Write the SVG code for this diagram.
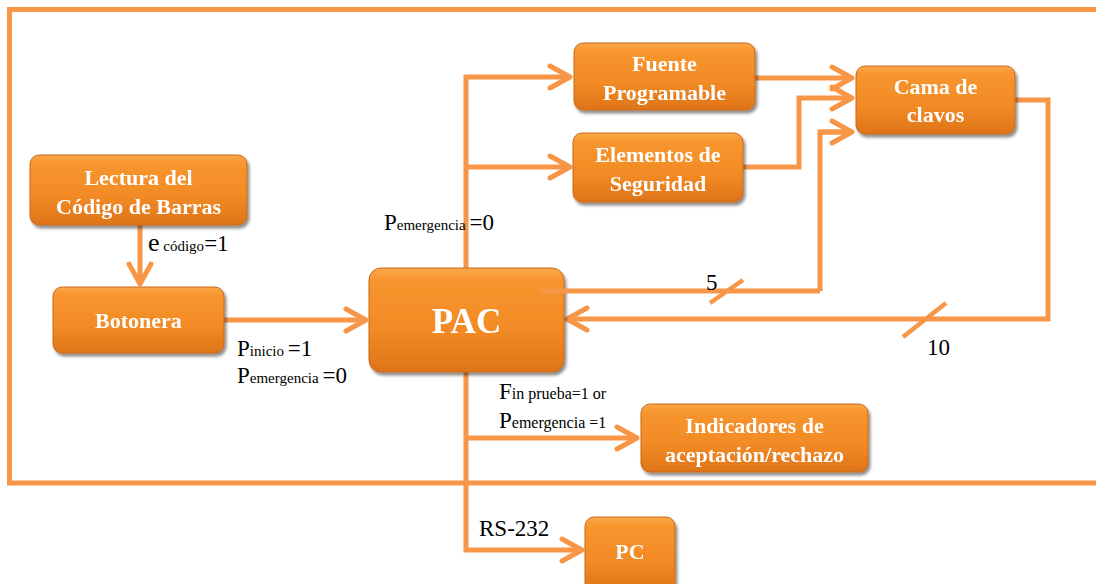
<svg xmlns="http://www.w3.org/2000/svg" width="1096" height="584" viewBox="0 0 1096 584">
<style>
.ln{fill:none;stroke:#F79646;stroke-width:5;stroke-linejoin:miter}
.box{fill:url(#g);stroke:#C8681C;stroke-width:1}
.bt{font-family:"Liberation Serif","Times New Roman",serif;font-weight:bold;fill:#fff;font-size:22px;text-anchor:middle}
.lb{font-family:"Liberation Serif","Times New Roman",serif;fill:#000;font-size:23px}
.sm{font-size:15px}
</style>
<defs>
<linearGradient id="g" x1="0" y1="0" x2="0" y2="1">
<stop offset="0" stop-color="#FBA84A"/>
<stop offset="0.12" stop-color="#F7952E"/>
<stop offset="0.6" stop-color="#F28A25"/>
<stop offset="1" stop-color="#DE7418"/>
</linearGradient>
<filter id="sh" x="-10%" y="-10%" width="125%" height="130%">
<feGaussianBlur in="SourceAlpha" stdDeviation="1.5"/>
<feOffset dx="2" dy="3"/>
<feComponentTransfer><feFuncA type="linear" slope="0.45"/></feComponentTransfer>
<feMerge><feMergeNode/><feMergeNode in="SourceGraphic"/></feMerge>
</filter>
<marker id="ar" viewBox="-24 -14 27 28" markerWidth="27" markerHeight="28" refX="0" refY="0" orient="auto" markerUnits="userSpaceOnUse">
<path d="M-20,-11 L0,0 L-20,11" fill="none" stroke="#F79646" stroke-width="5" stroke-linecap="round" stroke-linejoin="round"/>
</marker>
</defs>
<rect width="1096" height="584" fill="#fff"/>
<path class="ln" d="M1100,9.5 H9.5 V483 H1100" stroke-width="4.5"/>
<g id="connectors">
<path class="ln" d="M466,268 V77 H570" marker-end="url(#ar)"/>
<path class="ln" d="M466,167 H570" marker-end="url(#ar)"/>
<path class="ln" d="M466,372 V550 H582" marker-end="url(#ar)"/>
<path class="ln" d="M466,438 H637" marker-end="url(#ar)"/>
<path class="ln" d="M755,78 H852" marker-end="url(#ar)"/>
<path class="ln" d="M743,167 H799 V98 H852" marker-end="url(#ar)"/>
<path class="ln" d="M820,291 V132 H852"/>
<path class="ln" d="M820,132 H852" marker-end="url(#ar)"/>
<path class="ln" d="M1015,100 H1048 V319 H567" marker-end="url(#ar)"/>
<path class="ln" d="M140,225 V284" marker-end="url(#ar)"/>
<path class="ln" d="M224,320 H366" marker-end="url(#ar)"/>
<path d="M710,303 L743,280" stroke="#F79646" stroke-width="4.5"/>
<path d="M903,337 L946,303" stroke="#F79646" stroke-width="4.5"/>
</g>
<g id="n-lectura" filter="url(#sh)"><rect class="box" x="30" y="155" width="217" height="70" rx="9"/><text class="bt" x="138.5" y="185">Lectura del</text><text class="bt" x="138.5" y="214">Código de Barras</text></g>
<g id="n-botonera" filter="url(#sh)"><rect class="box" x="53" y="287" width="171" height="66" rx="9"/><text class="bt" x="138.5" y="328">Botonera</text></g>
<g id="n-pac" filter="url(#sh)"><rect class="box" x="369" y="268" width="195" height="104" rx="12"/><text class="bt" x="466.5" y="333" style="font-size:35px">PAC</text></g>
<g id="n-fuente" filter="url(#sh)"><rect class="box" x="574" y="43" width="181" height="67" rx="9"/><text class="bt" x="664.5" y="71">Fuente</text><text class="bt" x="664.5" y="100">Programable</text></g>
<g id="n-elementos" filter="url(#sh)"><rect class="box" x="573" y="133" width="170" height="69" rx="9"/><text class="bt" x="658" y="162">Elementos de</text><text class="bt" x="658" y="191">Seguridad</text></g>
<g id="n-cama" filter="url(#sh)"><rect class="box" x="856" y="66" width="159" height="68" rx="9"/><text class="bt" x="935.5" y="94">Cama de</text><text class="bt" x="935.5" y="122">clavos</text></g>
<g id="n-indicadores" filter="url(#sh)"><rect class="box" x="641" y="404" width="227" height="68" rx="9"/><text class="bt" x="754.5" y="433">Indicadores de</text><text class="bt" x="754.5" y="462">aceptación/rechazo</text></g>
<g id="n-pc" filter="url(#sh)"><rect class="box" x="585" y="517" width="90" height="75" rx="9"/><text class="bt" x="630" y="559">PC</text></g>
<path class="ln" d="M540,291 H820"/>
<g id="labels">
<text class="lb" x="148" y="251"><tspan style="font-size:26px">e</tspan><tspan class="sm"> código</tspan>=1</text>
<text class="lb" x="237" y="356">P<tspan class="sm">inicio </tspan>=1</text>
<text class="lb" x="237" y="383">P<tspan class="sm">emergencia </tspan>=0</text>
<text class="lb" x="384" y="230">P<tspan class="sm">emergencia </tspan>=0</text>
<text class="lb" x="499" y="399">F<tspan style="font-size:16px">in prueba=1 or</tspan></text>
<text class="lb" x="499" y="428">P<tspan style="font-size:16px">emergencia =1</tspan></text>
<text class="lb" x="479" y="536">RS-232</text>
<text class="lb" x="706" y="290">5</text>
<text class="lb" x="927" y="355">10</text>
</g>
</svg>
